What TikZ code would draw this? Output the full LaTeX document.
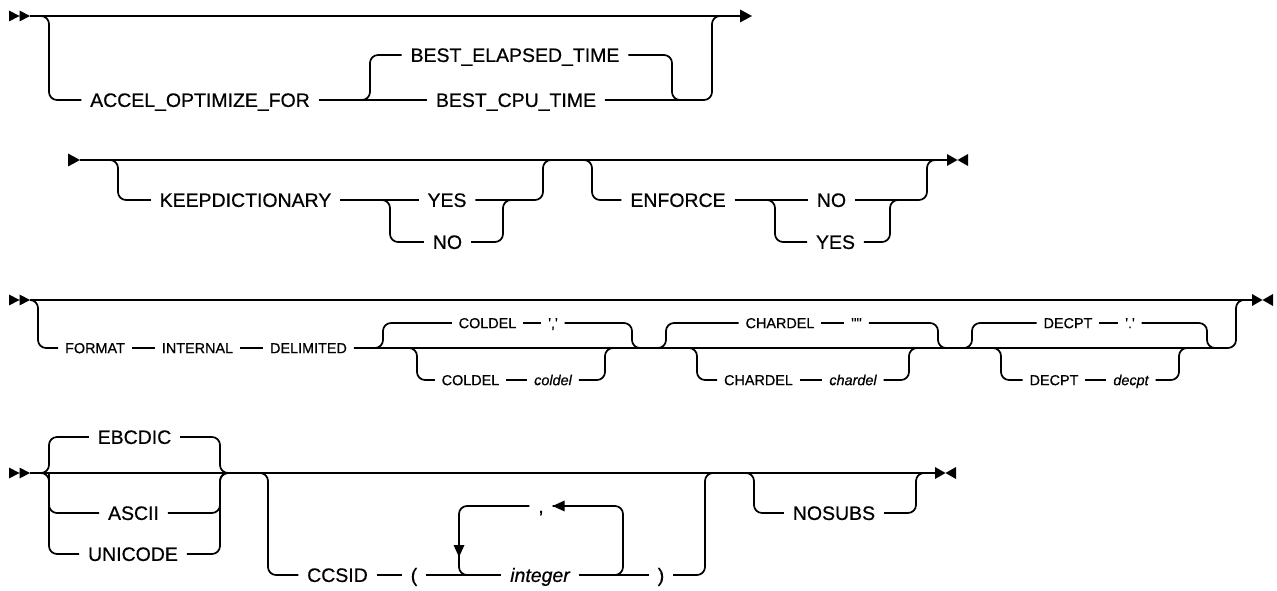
\documentclass[tikz,border=0pt]{standalone}
\usepackage{fontspec}
\setmainfont{Liberation Sans}[Ligatures=TeXOff, FakeBold=0.6]
\newcommand{\railbig}{\fontsize{14.6pt}{17pt}\selectfont}
\newcommand{\railsmall}{\fontsize{10.8pt}{13pt}\selectfont}
\tikzset{
    rail/.style={line width=1.3pt, rounded corners=6pt},
    kw/.style={font=\railbig, inner xsep=6.5pt, inner ysep=0pt, text height=10.4pt, text depth=0pt},
    ivar/.style={kw, font=\railbig\itshape},
    kwsm/.style={font=\railsmall, inner xsep=5pt, inner ysep=0pt, text height=7.7pt, text depth=0pt},
    ivarsm/.style={kwsm, font=\railsmall\itshape},
    startmark/.pic={\fill (-21,-5.5) -- (-10.5,0) -- (-21,5.5) -- cycle (-10.5,-5.5) -- (0,0) -- (-10.5,5.5) -- cycle;},
    contmark/.pic={\fill (-12,-6.5) -- (0,0) -- (-12,6.5) -- cycle;},
    endarrow/.pic={\fill (0,-6.5) -- (12,0) -- (0,6.5) -- cycle;},
    endmark/.pic={\fill (0,-6) -- (10.5,0) -- (0,6) -- cycle (21,-6) -- (10.5,0) -- (21,6) -- cycle;},
    leftarrow/.pic={\fill (0,0) -- (12,-5.5) -- (12,5.5) -- cycle;},
    downarrow/.pic={\fill (0,0) -- (-5.5,-12) -- (5.5,-12) -- cycle;},
}

\begin{document}
\begin{tikzpicture}[x=0.75pt, y=-0.75pt]
    \useasboundingbox (0,0) rectangle (1277,591);

    % ACCEL_OPTIMIZE_FOR
    \coordinate (r1a) at (30,16);
    \coordinate (r1b) at (740,16);
    \coordinate (b1) at (49,16);
    \coordinate (b2) at (370,100);
    \coordinate (j2) at (672,100);
    \coordinate (j1) at (712,16);
    \node[kw] (acc) at (200,100) {ACCEL\_OPTIMIZE\_FOR};
    \node[kw] (bet) at (515,55) {BEST\_ELAPSED\_TIME};
    \node[kw] (bcpu) at (516,100) {BEST\_CPU\_TIME};
    \draw[rail] (r1a) -- (r1b);
    \draw[rail] ([xshift=-6pt]b1) -- (b1) |- (acc.west);
    \draw[rail] (acc.east) -- (bcpu.west);
    \draw[rail] ([xshift=-6pt]b2) -- (b2) |- (bet.west);
    \draw[rail] (bet.east) -| (j2) -- ([xshift=6pt]j2);
    \draw[rail] (bcpu.east) -| (j1) -- ([xshift=6pt]j1);
    \pic at (r1a) {startmark};
    \pic at (r1b) {endarrow};

    % KEEPDICTIONARY, ENFORCE
    \coordinate (r2a) at (80,160);
    \coordinate (r2b) at (947,160);
    \coordinate (b3) at (118,160);
    \coordinate (b4) at (390,200);
    \coordinate (j4) at (503,200);
    \coordinate (j3) at (543,160);
    \coordinate (b5) at (592,160);
    \coordinate (b6) at (775,200);
    \coordinate (j6) at (890,200);
    \coordinate (j5) at (927,160);
    \node[kw] (kd) at (245.5,200) {KEEPDICTIONARY};
    \node[kw] (kyes) at (447,200) {YES};
    \node[kw] (kno) at (447.5,242) {NO};
    \node[kw] (enf) at (678,200) {ENFORCE};
    \node[kw] (eno) at (831.5,200) {NO};
    \node[kw] (eyes) at (835.5,242) {YES};
    \draw[rail] (r2a) -- (r2b);
    \draw[rail] ([xshift=-6pt]b3) -- (b3) |- (kd.west);
    \draw[rail] (kd.east) -- (kyes.west);
    \draw[rail] ([xshift=-6pt]b4) -- (b4) |- (kno.west);
    \draw[rail] (kno.east) -| (j4) -- ([xshift=6pt]j4);
    \draw[rail] (kyes.east) -| (j3) -- ([xshift=6pt]j3);
    \draw[rail] ([xshift=-6pt]b5) -- (b5) |- (enf.west);
    \draw[rail] (enf.east) -- (eno.west);
    \draw[rail] ([xshift=-6pt]b6) -- (b6) |- (eyes.west);
    \draw[rail] (eyes.east) -| (j6) -- ([xshift=6pt]j6);
    \draw[rail] (eno.east) -| (j5) -- ([xshift=6pt]j5);
    \pic at (r2a) {contmark};
    \pic at (r2b) {endmark};

    % FORMAT
    \coordinate (r3a) at (30,300);
    \coordinate (r3b) at (1252,300);
    \coordinate (b7) at (38,300);
    \coordinate (j7) at (1236,300);
    \coordinate (b8) at (383,348);
    \coordinate (j8) at (632,348);
    \coordinate (b9) at (417,348);
    \coordinate (j9) at (605,348);
    \coordinate (b10) at (666,348);
    \coordinate (j10) at (938,348);
    \coordinate (b11) at (697,348);
    \coordinate (j11) at (909,348);
    \coordinate (b12) at (972,348);
    \coordinate (j12) at (1207,348);
    \coordinate (b13) at (1001,348);
    \coordinate (j13) at (1179,348);
    \node[kwsm] (fmt) at (95,348) {FORMAT};
    \node[kwsm] (intl) at (197.5,348) {INTERNAL};
    \node[kwsm] (dlm) at (308.5,348) {DELIMITED};
    \node[kwsm] (cd1) at (487.5,323) {COLDEL};
    \node[kwsm] (cdq) at (553,323) {\textquotesingle,\textquotesingle};
    \node[kwsm] (cd2) at (470.5,380) {COLDEL};
    \node[ivarsm] (cdv) at (553,380) {coldel};
    \node[kwsm] (ch1) at (780,323) {CHARDEL};
    \node[kwsm] (chq) at (856.5,323) {\textquotesingle"\textquotesingle};
    \node[kwsm] (ch2) at (758.5,380) {CHARDEL};
    \node[ivarsm] (chv) at (853,380) {chardel};
    \node[kwsm] (dp1) at (1068,323) {DECPT};
    \node[kwsm] (dpq) at (1130,323) {\textquotesingle.\textquotesingle};
    \node[kwsm] (dp2) at (1054,380) {DECPT};
    \node[ivarsm] (dpv) at (1131,380) {decpt};
    \draw[rail] (r3a) -- (r3b);
    \draw[rail] ([xshift=-6pt]b7) -- (b7) |- (fmt.west);
    \draw[rail] (fmt.east) -- (intl.west);
    \draw[rail] (intl.east) -- (dlm.west);
    \draw[rail] (dlm.east) -| (j7) -- ([xshift=6pt]j7);
    \draw[rail] ([xshift=-6pt]b8) -- (b8) |- (cd1.west);
    \draw[rail] (cd1.east) -- (cdq.west);
    \draw[rail] (cdq.east) -| (j8) -- ([xshift=6pt]j8);
    \draw[rail] ([xshift=-6pt]b9) -- (b9) |- (cd2.west);
    \draw[rail] (cd2.east) -- (cdv.west);
    \draw[rail] (cdv.east) -| (j9) -- ([xshift=6pt]j9);
    \draw[rail] ([xshift=-6pt]b10) -- (b10) |- (ch1.west);
    \draw[rail] (ch1.east) -- (chq.west);
    \draw[rail] (chq.east) -| (j10) -- ([xshift=6pt]j10);
    \draw[rail] ([xshift=-6pt]b11) -- (b11) |- (ch2.west);
    \draw[rail] (ch2.east) -- (chv.west);
    \draw[rail] (chv.east) -| (j11) -- ([xshift=6pt]j11);
    \draw[rail] ([xshift=-6pt]b12) -- (b12) |- (dp1.west);
    \draw[rail] (dp1.east) -- (dpq.west);
    \draw[rail] (dpq.east) -| (j12) -- ([xshift=6pt]j12);
    \draw[rail] ([xshift=-6pt]b13) -- (b13) |- (dp2.west);
    \draw[rail] (dp2.east) -- (dpv.west);
    \draw[rail] (dpv.east) -| (j13) -- ([xshift=6pt]j13);
    \pic at (r3a) {startmark};
    \pic at (r3b) {endmark};

    % code page, CCSID, NOSUBS
    \coordinate (r4a) at (30,473);
    \coordinate (r4b) at (935,473);
    \coordinate (b14) at (49,473);
    \coordinate (j14) at (220,473);
    \coordinate (b15) at (268,473);
    \coordinate (j15) at (705,473);
    \coordinate (l1) at (623,575);
    \coordinate (l2) at (459,575);
    \coordinate (l3) at (459,557);
    \coordinate (b16) at (754,473);
    \coordinate (j16) at (916,473);
    \node[kw] (ebc) at (134.5,437) {EBCDIC};
    \node[kw] (asc) at (133.5,513) {ASCII};
    \node[kw] (uni) at (133,554) {UNICODE};
    \node[kw] (ccsid) at (337.5,575) {CCSID};
    \node[kw] (lpar) at (414,575) {(};
    \node[ivar] (ival) at (540,575) {integer};
    \node[kw] (rpar) at (661,575) {)};
    \node[kw] (comma) at (541,506) {,};
    \node[kw] (nos) at (834,513) {NOSUBS};
    \draw[rail] (r4a) -- (r4b);
    \draw[rail] ([xshift=-6pt]b14) -- (b14) |- (ebc.west);
    \draw[rail] ([xshift=-6pt]b14) -- (b14) |- (uni.west);
    \draw[rail] (b14) |- (asc.west);
    \draw[rail] (ebc.east) -| (j14) -- ([xshift=6pt]j14);
    \draw[rail] (asc.east) -| (j14) -- ([xshift=6pt]j14);
    \draw[rail] (uni.east) -| (j14) -- ([xshift=6pt]j14);
    \draw[rail] ([xshift=-6pt]b15) -- (b15) |- (ccsid.west);
    \draw[rail] (ccsid.east) -- (lpar.west);
    \draw[rail] (lpar.east) -- (ival.west);
    \draw[rail] (ival.east) -- (rpar.west);
    \draw[rail] (rpar.east) -| (j15) -- ([xshift=6pt]j15);
    \draw[rail] ([xshift=-8pt]l1) -- (l1) |- (comma.east);
    \draw[rail] (comma.west) -| (l2) -- ([xshift=8pt]l2);
    \draw[rail] ([xshift=-6pt]b16) -- (b16) |- (nos.west);
    \draw[rail] (nos.east) -| (j16) -- ([xshift=6pt]j16);
    \pic at (comma.east) {leftarrow};
    \pic at (l3) {downarrow};
    \pic at (r4a) {startmark};
    \pic at (r4b) {endmark};
\end{tikzpicture}
\end{document}
